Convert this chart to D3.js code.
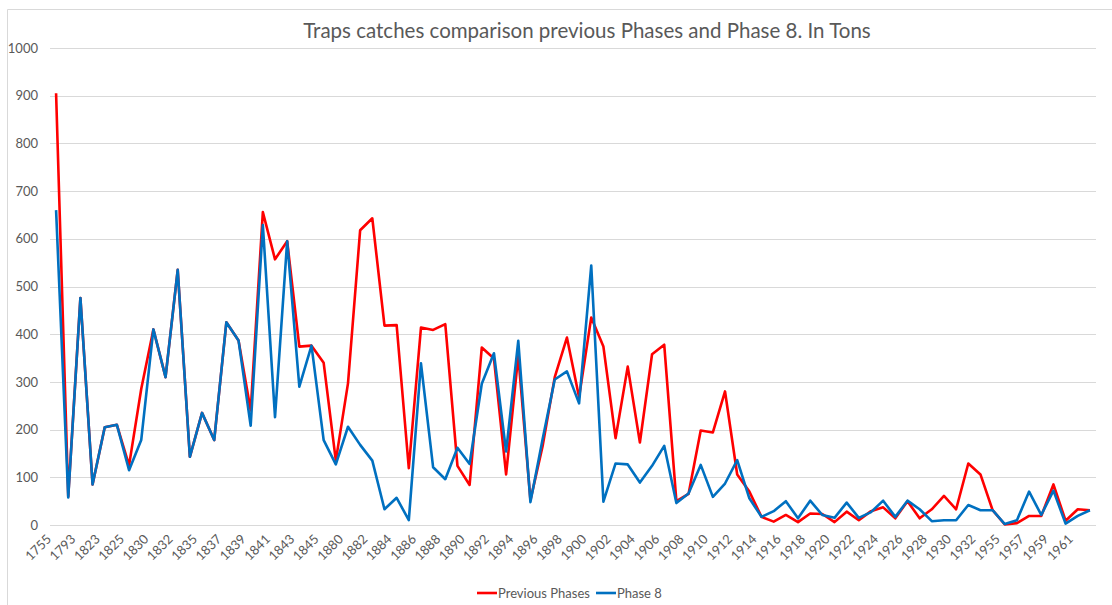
<!DOCTYPE html>
<html>
<head>
<meta charset="utf-8">
<script src="https://cdn.jsdelivr.net/npm/d3@7"></script>
<style>
  html, body { margin: 0; padding: 0; background: #fff; }
  svg { display: block; font-family: Lato, "Liberation Sans", sans-serif; }
</style>
</head>
<body>
<div id="chart"></div>
<script>
// years (only every other one is labelled on the axis)
const years = [
  "1755","1792","1793","1822","1823","1824","1825","1829","1830","1831",
  "1832","1834","1835","1836","1837","1838","1839","1840","1841","1842",
  "1843","1844","1845","1879","1880","1881","1882","1883","1884","1885",
  "1886","1887","1888","1889","1890","1891","1892","1893","1894","1895",
  "1896","1897","1898","1899","1900","1901","1902","1903","1904","1905",
  "1906","1907","1908","1909","1910","1911","1912","1913","1914","1915",
  "1916","1917","1918","1919","1920","1921","1922","1923","1924","1925",
  "1926","1927","1928","1929","1930","1931","1932","1933","1955","1956",
  "1957","1958","1959","1960","1961","1962"
];

const previousPhases = [
  905, 60, 476, 85, 205, 210, 125, 285, 410, 310,
  535, 143, 235, 178, 425, 387, 240, 656, 557, 595,
  374, 376, 340, 135, 297, 618, 643, 418, 419, 119,
  414, 409, 421, 124, 84, 372, 349, 106, 355, 52,
  165, 310, 393, 268, 435, 374, 182, 332, 173, 358,
  378, 50, 65, 198, 194, 280, 106, 70, 17, 7,
  21, 6, 24, 23, 6, 28, 10, 29, 37, 14,
  50, 14, 33, 61, 33, 129, 106, 31, 1, 4,
  19, 19, 85, 9, 33, 31
];

const phase8 = [
  660, 58, 476, 85, 205, 210, 115, 178, 410, 310,
  535, 143, 235, 178, 425, 387, 208, 629, 226, 595,
  290, 376, 178, 127, 206, 168, 135, 33, 57, 10,
  339, 121, 96, 162, 128, 296, 360, 154, 386, 48,
  180, 305, 322, 255, 544, 49, 129, 127, 89, 124,
  166, 46, 66, 126, 59, 87, 136, 56, 17, 29,
  50, 14, 51, 21, 15, 47, 15, 27, 51, 17,
  51, 33, 8, 10, 10, 42, 31, 31, 2, 10,
  70, 21, 72, 3, 19, 31
];

const yTicks = [0, 100, 200, 300, 400, 500, 600, 700, 800, 900, 1000];

const seriesNames = ["Previous Phases", "Phase 8"];
const seriesColors = ["#ff0000", "#0070c0"];

const W = 1112, H = 605;
const margin = { top: 48, right: 16, bottom: 80, left: 50 };
const x0 = margin.left, x1 = W - margin.right;   // 50 .. 1096
const y0 = 525, y1 = 48;

const svg = d3.select("#chart").append("svg")
  .attr("width", W)
  .attr("height", H);

// chart frame (left and top edge visible)
svg.append("line").attr("x1", 7.5).attr("x2", 7.5).attr("y1", 9.5).attr("y2", H)
  .attr("stroke", "#d9d9d9").attr("stroke-width", 1);
svg.append("line").attr("x1", 7.5).attr("x2", W).attr("y1", 9.5).attr("y2", 9.5)
  .attr("stroke", "#d9d9d9").attr("stroke-width", 1);

const x = d3.scaleBand()
  .domain(years)
  .range([x0, x1]);

const y = d3.scaleLinear()
  .domain([0, 1000])
  .range([y0, y1]);

// title
svg.append("text")
  .attr("x", 587)
  .attr("y", 38)
  .attr("text-anchor", "middle")
  .attr("font-size", "20.5px")
  .attr("fill", "#595959")
  .text("Traps catches comparison previous Phases and Phase 8. In Tons");

// gridlines
svg.append("g")
  .selectAll("line")
  .data(yTicks)
  .enter().append("line")
    .attr("x1", x0)
    .attr("x2", x1)
    .attr("y1", d => Math.round(y(d)) + 0.5)
    .attr("y2", d => Math.round(y(d)) + 0.5)
    .attr("stroke", "#d9d9d9")
    .attr("stroke-width", 1);

// y axis labels
const yAxis = d3.axisLeft(y).tickValues(yTicks).tickSize(0).tickPadding(0)
  .tickFormat(d3.format("d"));
const gy = svg.append("g")
  .attr("transform", `translate(${38},0)`)
  .call(yAxis);
gy.select(".domain").remove();
gy.selectAll("text")
  .attr("font-family", "Lato, 'Liberation Sans', sans-serif")
  .attr("font-size", "13px")
  .attr("fill", "#595959");

// x axis labels, every other year, rotated
const xAxis = d3.axisBottom(x)
  .tickValues(years.filter((d, i) => i % 2 === 0))
  .tickSize(0)
  .tickPadding(0);
const gx = svg.append("g")
  .attr("transform", `translate(0,${y0})`)
  .call(xAxis);
gx.select(".domain").remove();
gx.selectAll("text")
  .attr("font-family", "Lato, 'Liberation Sans', sans-serif")
  .attr("font-size", "13px")
  .attr("fill", "#595959")
  .attr("text-anchor", "end")
  .attr("dy", null)
  .attr("y", 0)
  .attr("transform", "translate(-4,15) rotate(-45)");

// lines
const line = d3.line()
  .x((d, i) => x(years[i]) + x.bandwidth() / 2)
  .y(d => y(d));

[previousPhases, phase8].forEach((vals, k) => {
  svg.append("path")
    .datum(vals)
    .attr("fill", "none")
    .attr("stroke", seriesColors[k])
    .attr("stroke-width", 2.6)
    .attr("stroke-linejoin", "round")
    .attr("d", line);
});

// legend
const legendPos = [477, 596];
seriesNames.forEach((name, k) => {
  const g = svg.append("g").attr("transform", `translate(${legendPos[k]},593)`);
  g.append("line")
    .attr("x1", 0).attr("x2", 20)
    .attr("y1", 0).attr("y2", 0)
    .attr("stroke", seriesColors[k])
    .attr("stroke-width", 2.6);
  g.append("text")
    .attr("x", 21)
    .attr("y", 4.5)
    .attr("font-size", "13px")
    .attr("fill", "#595959")
    .text(name);
});
</script>
</body>
</html>
